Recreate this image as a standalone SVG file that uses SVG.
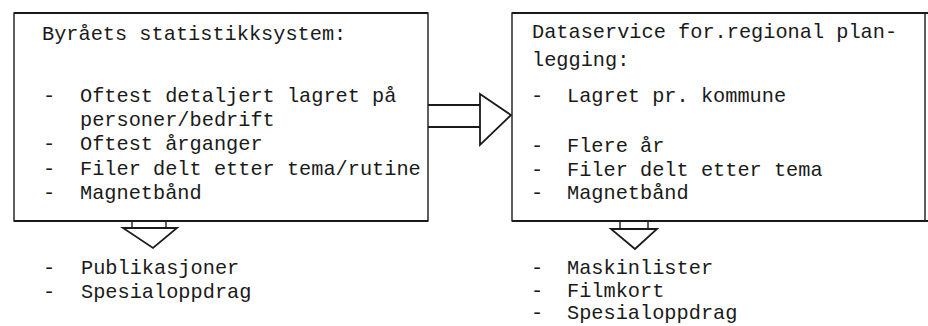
<svg xmlns="http://www.w3.org/2000/svg" width="928" height="326" viewBox="0 0 928 326">
<style>
text{font-family:"Liberation Mono","DejaVu Sans Mono",monospace;font-size:20.3px;fill:#1a1a1a}
.box{fill:none;stroke:#1a1a1a;stroke-width:1.4}
.edge{fill:none;stroke:#1a1a1a;stroke-width:2}
.ar{fill:#fff;stroke:#1a1a1a;stroke-width:1.8;stroke-linejoin:miter}
</style>
<rect width="928" height="326" fill="#fff"/>
<g id="connectors">
<line class="edge" x1="428" y1="105" x2="480" y2="105"/>
<line class="edge" x1="428" y1="127" x2="480" y2="127"/>
<polygon class="ar" points="480,94 511,115 480,145"/>
<line class="box" x1="132" y1="221" x2="132" y2="228"/>
<line class="box" x1="166" y1="221" x2="166" y2="228"/>
<polygon class="ar" points="123,228 177,228 153,248"/>
<line class="box" x1="620" y1="221" x2="620" y2="229"/>
<line class="box" x1="648" y1="221" x2="648" y2="229"/>
<polygon class="ar" points="611,229 657,229 635,249"/>
</g>
<g id="node-byraa">
<rect class="box" x="14" y="13" width="414" height="208"/>
<line class="edge" x1="14" y1="13" x2="428" y2="13"/>
<line class="edge" x1="14" y1="221" x2="428" y2="221"/>
<text x="42" y="40">Byråets statistikksystem:</text>
<text x="43" y="102">-</text><text x="80" y="102">Oftest detaljert lagret på</text>
<text x="80" y="126">personer/bedrift</text>
<text x="43" y="150">-</text><text x="80" y="150">Oftest årganger</text>
<text x="43" y="175">-</text><text x="80" y="175">Filer delt etter tema/rutine</text>
<text x="43" y="199">-</text><text x="80" y="199">Magnetbånd</text>
</g>
<g id="node-dataservice">
<rect class="box" x="512" y="13" width="413" height="208"/>
<line class="edge" x1="512" y1="13" x2="928" y2="13"/>
<line class="edge" x1="512" y1="221" x2="928" y2="221"/>
<text x="532" y="38">Dataservice for.regional plan-</text>
<text x="532" y="66">legging:</text>
<text x="531" y="102">-</text><text x="567" y="102">Lagret pr. kommune</text>
<text x="531" y="152">-</text><text x="567" y="152">Flere år</text>
<text x="531" y="176">-</text><text x="567" y="176">Filer delt etter tema</text>
<text x="531" y="199">-</text><text x="567" y="199">Magnetbånd</text>
</g>
<g id="node-byraa-output">
<text x="43" y="274">-</text><text x="81" y="274">Publikasjoner</text>
<text x="43" y="298">-</text><text x="81" y="298">Spesialoppdrag</text>
</g>
<g id="node-dataservice-output">
<text x="531" y="274">-</text><text x="567" y="274">Maskinlister</text>
<text x="531" y="297">-</text><text x="567" y="297">Filmkort</text>
<text x="531" y="319">-</text><text x="567" y="319">Spesialoppdrag</text>
</g>
</svg>
